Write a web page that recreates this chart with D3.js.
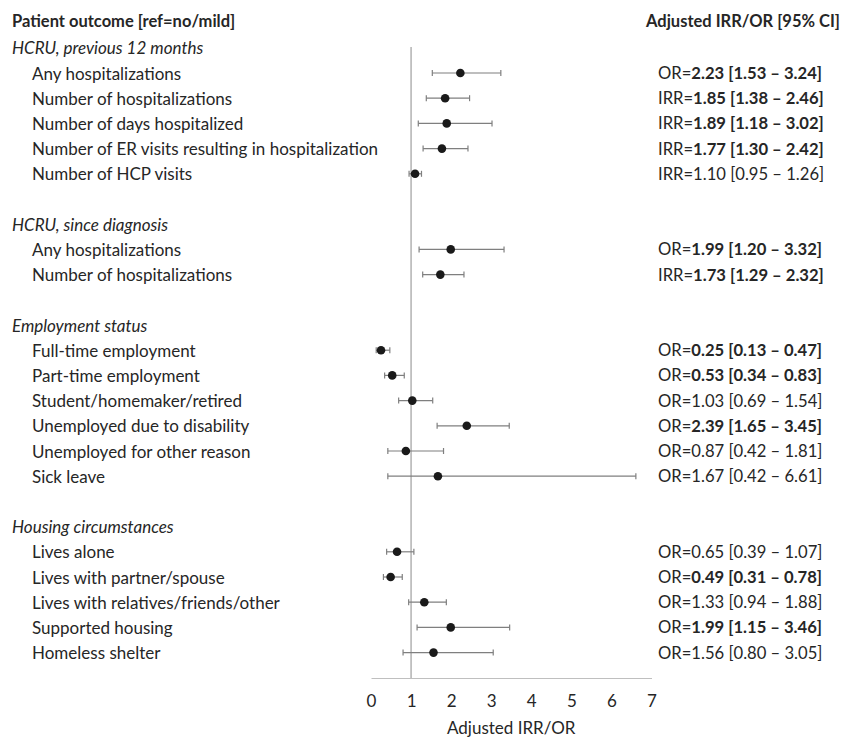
<!DOCTYPE html>
<html>
<head>
<meta charset="utf-8">
<script src="https://cdn.jsdelivr.net/npm/d3@7"></script>
<style>
  html, body { margin: 0; padding: 0; background: #fff; }
  svg { display: block; }
  text { font-family: Lato, "Open Sans", sans-serif; fill: #262626; }
</style>
</head>
<body>
<svg id="chart" width="841" height="737"></svg>
<script>
// ---- data ----
const sections = ["HCRU, previous 12 months", "HCRU, since diagnosis", "Employment status", "Housing circumstances"];
const outcomes = [
  "Any hospitalizations", "Number of hospitalizations", "Number of days hospitalized",
  "Number of ER visits resulting in hospitalization", "Number of HCP visits",
  "Any hospitalizations", "Number of hospitalizations",
  "Full-time employment", "Part-time employment", "Student/homemaker/retired",
  "Unemployed due to disability", "Unemployed for other reason", "Sick leave",
  "Lives alone", "Lives with partner/spouse", "Lives with relatives/friends/other",
  "Supported housing", "Homeless shelter"
];
const sectionOf = [0,0,0,0,0, 1,1, 2,2,2,2,2,2, 3,3,3,3,3];
const measure = ["OR","IRR","IRR","IRR","IRR", "OR","IRR", "OR","OR","OR","OR","OR","OR", "OR","OR","OR","OR","OR"];
const estimate = [2.23,1.85,1.89,1.77,1.10, 1.99,1.73, 0.25,0.53,1.03,2.39,0.87,1.67, 0.65,0.49,1.33,1.99,1.56];
const lower    = [1.53,1.38,1.18,1.30,0.95, 1.20,1.29, 0.13,0.34,0.69,1.65,0.42,0.42, 0.39,0.31,0.94,1.15,0.80];
const upper    = [3.24,2.46,3.02,2.42,1.26, 3.32,2.32, 0.47,0.83,1.54,3.45,1.81,6.61, 1.07,0.78,1.88,3.46,3.05];
const significant = [true,true,true,true,false, true,true, true,true,false,true,false,false, false,true,false,true,false];
const xTicks = [0,1,2,3,4,5,6,7];
const xTitle = "Adjusted IRR/OR";
const leftHeader = "Patient outcome [ref=no/mild]";
const rightHeader = "Adjusted IRR/OR [95% CI]";

// ---- layout: build row list (section header, items, blank) ----
const rows = [];
sections.forEach((s, si) => {
  if (si > 0) rows.push({type: "blank"});
  rows.push({type: "section", label: s});
  outcomes.forEach((o, i) => {
    if (sectionOf[i] === si) rows.push({type: "item", i});
  });
});

const svg = d3.select("#chart");
const x = d3.scaleLinear().domain([0, 7]).range([371, 651.5]);
const y = d3.scaleLinear().domain([0, 1]).range([47.8, 47.8 + 25.2]);
const fs = 17;

// headers
svg.append("text").attr("x", 12).attr("y", 21).attr("dominant-baseline", "central")
  .attr("font-size", 16.5).attr("font-weight", "bold").text(leftHeader);
svg.append("text").attr("x", 840).attr("y", 21).attr("dominant-baseline", "central")
  .attr("text-anchor", "end").attr("font-size", 16.5).attr("font-weight", "bold").text(rightHeader);

// reference line at 1
const axisY = 678;
svg.append("line").attr("x1", x(1)).attr("x2", x(1)).attr("y1", 47).attr("y2", axisY)
  .attr("stroke", "#a6a6a6").attr("stroke-width", 1.3);

// x axis
const axis = d3.axisBottom(x).tickValues(xTicks).tickSize(0).tickPadding(17).tickFormat(d3.format("d"));
const ag = svg.append("g").attr("transform", `translate(0,${axisY})`).call(axis);
ag.select(".domain").attr("stroke", "#bfbfbf").attr("stroke-width", 1.2);
ag.selectAll("text").attr("font-size", fs).attr("font-family", "Lato, sans-serif").attr("fill", "#262626");
svg.append("text").attr("x", x(3.5)).attr("y", 727).attr("dominant-baseline", "central")
  .attr("text-anchor", "middle").attr("font-size", fs).text(xTitle);

// right column font size: fit the reference width of the widest label (~164px)
function makeLabel(sel, i, size) {
  const t = sel.append("text").attr("x", 658).attr("dominant-baseline", "central").attr("font-size", size);
  t.append("tspan").text(measure[i] + "=");
  t.append("tspan").attr("font-weight", significant[i] ? "bold" : "normal")
    .text(`${estimate[i].toFixed(2)} [${lower[i].toFixed(2)} \u2013 ${upper[i].toFixed(2)}]`);
  return t;
}
const probe = makeLabel(svg, 1, 17);
const probeW = probe.node().getComputedTextLength();
probe.remove();
const rfs = Math.min(17, 17 * 166 / probeW);

// rows
rows.forEach((r, ri) => {
  const cy = y(ri);
  if (r.type === "section") {
    svg.append("text").attr("x", 12).attr("y", cy).attr("dominant-baseline", "central")
      .attr("font-size", fs).attr("font-style", "italic").text(r.label);
  } else if (r.type === "item") {
    const i = r.i;
    svg.append("text").attr("x", 32).attr("y", cy).attr("dominant-baseline", "central")
      .attr("font-size", fs).text(outcomes[i]);
    // CI
    const g = svg.append("g").attr("stroke", "#7f7f7f").attr("stroke-width", 1.2);
    g.append("line").attr("x1", x(lower[i])).attr("x2", x(upper[i])).attr("y1", cy).attr("y2", cy);
    g.append("line").attr("x1", x(lower[i])).attr("x2", x(lower[i])).attr("y1", cy - 3).attr("y2", cy + 3);
    g.append("line").attr("x1", x(upper[i])).attr("x2", x(upper[i])).attr("y1", cy - 3).attr("y2", cy + 3);
    svg.append("circle").attr("cx", x(estimate[i])).attr("cy", cy).attr("r", 4.3).attr("fill", "#1a1a1a");
    // right label
    makeLabel(svg, i, rfs).attr("y", cy);
  }
});
</script>
</body>
</html>
